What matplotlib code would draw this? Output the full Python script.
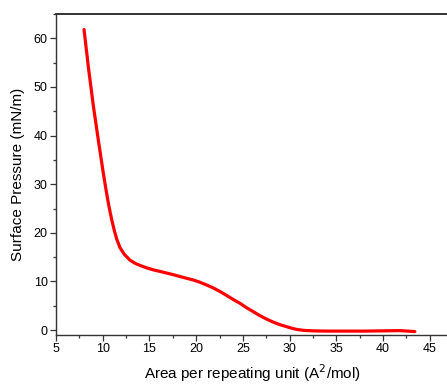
import matplotlib
matplotlib.use("Agg")
import matplotlib.pyplot as plt
from matplotlib.ticker import MultipleLocator

# Pressure-area isotherm, values
area = [8.0, 8.45, 8.99, 9.55, 10.06, 10.35, 10.65, 10.95, 11.25, 11.5, 11.84,
        12.3, 12.91, 13.5, 14.0, 14.7, 15.4, 16.5, 17.55, 18.7, 19.7, 20.4,
        21.1, 21.8, 22.5, 23.2, 23.96, 24.7, 25.4, 26.1, 26.8, 27.5, 28.24,
        29.0, 29.7, 30.2, 30.74, 31.5, 32.5, 34.0, 36.0, 38.0, 40.0, 41.8,
        42.6, 43.4]
pressure = [61.8, 54.3, 46.2, 38.8, 32.3, 28.9, 25.6, 22.8, 20.4, 18.7, 17.0,
            15.6, 14.4, 13.7, 13.3, 12.8, 12.4, 11.9, 11.4, 10.8, 10.3, 9.85,
            9.3, 8.7, 8.0, 7.2, 6.3, 5.5, 4.6, 3.8, 3.0, 2.3, 1.65,
            1.1, 0.7, 0.4, 0.15, -0.05, -0.15, -0.2, -0.2, -0.2, -0.15, -0.1,
            -0.2, -0.3]

plt.rcParams["font.family"] = ["Liberation Sans", "DejaVu Sans"]

fig = plt.figure(figsize=(4.47, 3.85), dpi=100)
ax = fig.add_axes([0.1253, 0.1299, 0.878, 0.8337])

ax.plot(area, pressure, color="red", linewidth=2.3,
        solid_capstyle="round", solid_joinstyle="round")

ax.set_xlim(5, 47)
ax.set_ylim(-1, 65)
ax.xaxis.set_major_locator(MultipleLocator(5))
ax.xaxis.set_minor_locator(MultipleLocator(2.5))
ax.yaxis.set_major_locator(MultipleLocator(10))
ax.yaxis.set_minor_locator(MultipleLocator(5))

ax.tick_params(which="major", direction="out", length=4, width=0.9,
               labelsize=9, pad=2, color="#333333")
ax.tick_params(which="minor", direction="out", length=2.5, width=0.9,
               color="#333333")
for side in ["left", "bottom", "top"]:
    ax.spines[side].set_linewidth(1.0)
    ax.spines[side].set_color("#333333")
ax.spines["top"].set_linewidth(1.4)
ax.spines["right"].set_visible(False)

ax.set_xlabel("Area per repeating unit (A$^2$/mol)", fontsize=11, labelpad=5)
ax.set_ylabel("Surface Pressure (mN/m)", fontsize=11, labelpad=6)

fig.savefig("out.png", dpi=100)
